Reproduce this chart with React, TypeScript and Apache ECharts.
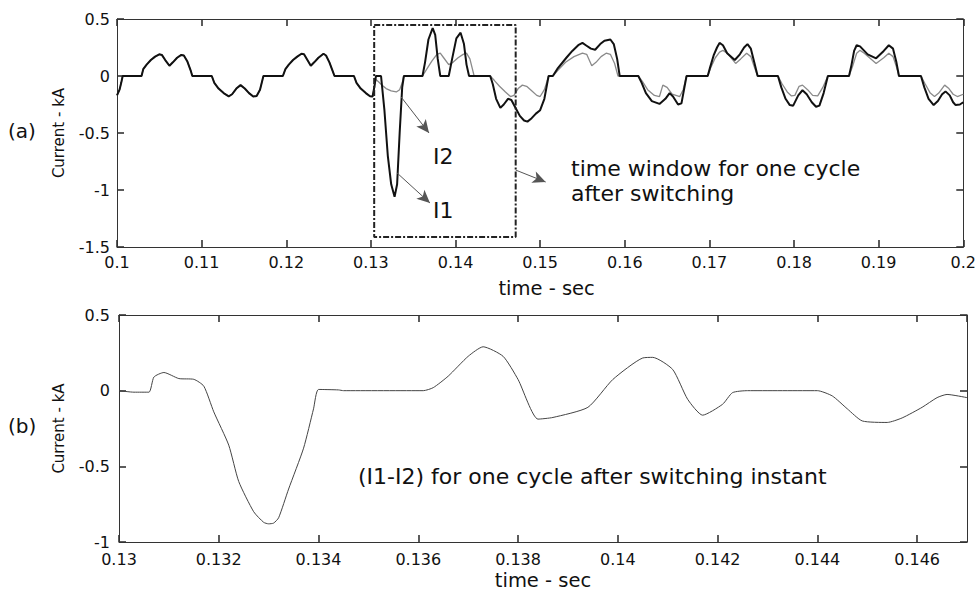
import React, { useEffect, useRef } from "react";
import * as echarts from "echarts";

// ---- Panel (a): currents, shared part before switching (I1 = I2) ----
const preTime = [
  0.1, 0.1003, 0.1005, 0.10067, 0.1029, 0.1031, 0.1035, 0.104, 0.1045, 0.105, 0.1053, 0.1057, 0.1062,
  0.1066, 0.1071, 0.1076, 0.1079, 0.1083, 0.1087, 0.1089, 0.1112, 0.1115, 0.112, 0.1126, 0.1132,
  0.1136, 0.1141, 0.1146, 0.1151, 0.1156, 0.1161, 0.1165, 0.1169, 0.1172, 0.1173, 0.1196, 0.1199,
  0.1203, 0.1208, 0.1213, 0.1218, 0.1221, 0.1225, 0.1229, 0.1233, 0.1238, 0.1244, 0.1247, 0.1251,
  0.1255, 0.1257, 0.128, 0.1283, 0.1288, 0.1294, 0.1299, 0.1302,
];
const preCurrent = [
  -0.17, -0.12, -0.06, 0, 0, 0.06, 0.1, 0.14, 0.17, 0.19, 0.185, 0.14, 0.09,
  0.12, 0.16, 0.185, 0.18, 0.13, 0.05, 0, 0, -0.06, -0.11, -0.15, -0.178,
  -0.16, -0.11, -0.08, -0.11, -0.15, -0.18, -0.175, -0.12, -0.03, 0, 0, 0.06,
  0.1, 0.14, 0.17, 0.195, 0.19, 0.14, 0.09, 0.12, 0.16, 0.195, 0.18, 0.12,
  0.04, 0, 0, -0.06, -0.11, -0.15, -0.178, -0.18,
];

// ---- I1 after switching ----
const i1PostTime = [
  0.1304, 0.1306, 0.1312, 0.1316, 0.132, 0.1324, 0.1328, 0.1331, 0.1334, 0.1337, 0.1339, 0.1361,
  0.1364, 0.1368, 0.1373, 0.1376, 0.1379, 0.1382, 0.1392, 0.1396, 0.1401, 0.1406, 0.141, 0.1413,
  0.1416, 0.1441, 0.1444, 0.1448, 0.1453, 0.1457, 0.1462, 0.1466, 0.1471, 0.1476, 0.1481, 0.1485,
  0.149, 0.1495, 0.15, 0.1505, 0.1508, 0.151, 0.1515, 0.1521, 0.1531, 0.1538, 0.1545, 0.155, 0.1554,
  0.156, 0.1565, 0.1571, 0.1576, 0.1583, 0.1587, 0.1591, 0.1594, 0.1616, 0.162, 0.1625, 0.1632,
  0.1641, 0.1648, 0.1653, 0.1657, 0.1663, 0.1667, 0.167, 0.1673, 0.1698, 0.1701, 0.1705, 0.1709,
  0.1712, 0.1716, 0.1721, 0.173, 0.1736, 0.1741, 0.1745, 0.1749, 0.1753, 0.1757, 0.1781, 0.1785,
  0.179, 0.1795, 0.1799, 0.1805, 0.181, 0.1815, 0.1821, 0.1826, 0.183, 0.1835, 0.184, 0.1865, 0.1868,
  0.1871, 0.1874, 0.1878, 0.1887, 0.1897, 0.1906, 0.1912, 0.1917, 0.1921, 0.1924, 0.195, 0.1954,
  0.1959, 0.1965, 0.197, 0.1975, 0.1979, 0.1984, 0.1988, 0.1991, 0.1996, 0.2,
];
const i1PostCurrent = [
  -0.1, 0, 0, -0.3, -0.7, -0.95, -1.06, -0.95, -0.5, -0.1, 0, 0,
  0.12, 0.32, 0.42, 0.36, 0.15, 0, 0, 0.15, 0.33, 0.38, 0.28, 0.1,
  0, 0, -0.07, -0.2, -0.28, -0.25, -0.2, -0.21, -0.28, -0.35, -0.39, -0.4,
  -0.37, -0.33, -0.3, -0.2, -0.08, 0, 0, 0.07, 0.16, 0.22, 0.27, 0.29, 0.27,
  0.24, 0.23, 0.28, 0.31, 0.32, 0.28, 0.15, 0, 0, -0.06, -0.15, -0.22,
  -0.245, -0.2, -0.15, -0.18, -0.25, -0.24, -0.12, 0, 0, 0.08, 0.18, 0.25,
  0.29, 0.27, 0.2, 0.14, 0.19, 0.25, 0.28, 0.24, 0.12, 0, 0, -0.1,
  -0.2, -0.255, -0.26, -0.17, -0.125, -0.16, -0.23, -0.27, -0.26, -0.15, 0, 0, 0.1,
  0.22, 0.27, 0.26, 0.19, 0.155, 0.22, 0.27, 0.24, 0.12, 0, 0, -0.1,
  -0.2, -0.255, -0.22, -0.16, -0.135, -0.17, -0.23, -0.255, -0.25, -0.23,
];

// ---- I2 after switching ----
const i2PostTime = [
  0.1304, 0.1306, 0.1309, 0.1313, 0.1318, 0.1324, 0.133, 0.1334, 0.1337, 0.1339, 0.1361, 0.1366,
  0.1372, 0.1378, 0.1382, 0.1386, 0.1392, 0.1397, 0.1403, 0.1409, 0.1413, 0.1417, 0.142, 0.1422,
  0.1441, 0.1446, 0.1452, 0.1459, 0.1465, 0.1469, 0.1474, 0.1479, 0.1484, 0.149, 0.1496, 0.15,
  0.1505, 0.1508, 0.151, 0.1515, 0.1521, 0.153, 0.154, 0.155, 0.1555, 0.1561, 0.1566, 0.1572, 0.1578,
  0.1583, 0.1588, 0.1592, 0.1616, 0.1621, 0.1627, 0.1635, 0.1641, 0.1645, 0.165, 0.1656, 0.1665,
  0.1669, 0.1673, 0.1698, 0.1702, 0.1707, 0.1712, 0.1716, 0.1721, 0.1731, 0.1737, 0.1744, 0.1749,
  0.1753, 0.1757, 0.1781, 0.1786, 0.1792, 0.1797, 0.1801, 0.1806, 0.181, 0.1816, 0.1822, 0.1828,
  0.1834, 0.184, 0.1865, 0.1869, 0.1874, 0.1878, 0.1883, 0.1897, 0.1906, 0.1912, 0.1917, 0.1921,
  0.1924, 0.195, 0.1955, 0.1961, 0.1966, 0.1971, 0.1978, 0.1983, 0.1988, 0.1993, 0.2,
];
const i2PostCurrent = [
  -0.1, -0.03, -0.05, -0.08, -0.11, -0.13, -0.14, -0.12, -0.06, 0, 0, 0.06,
  0.13, 0.19, 0.2, 0.16, 0.1, 0.12, 0.16, 0.19, 0.2, 0.15, 0.06, 0,
  0, -0.04, -0.09, -0.14, -0.18, -0.17, -0.11, -0.08, -0.09, -0.13, -0.17, -0.18,
  -0.12, -0.05, 0, 0, 0.05, 0.12, 0.17, 0.2, 0.19, 0.09, 0.12, 0.17, 0.2,
  0.19, 0.11, 0, 0, -0.05, -0.12, -0.17, -0.18, -0.08, -0.1, -0.16, -0.18,
  -0.12, 0, 0, 0.08, 0.16, 0.21, 0.225, 0.2, 0.11, 0.15, 0.2, 0.17,
  0.08, 0, 0, -0.07, -0.14, -0.175, -0.17, -0.09, -0.08, -0.12, -0.17, -0.175,
  -0.1, 0, 0, 0.08, 0.2, 0.225, 0.2, 0.11, 0.16, 0.2, 0.17, 0.08,
  0, 0, -0.07, -0.15, -0.18, -0.15, -0.08, -0.11, -0.16, -0.18, -0.16,
];

// ---- Panel (b): I1 - I2 ----
const diffTime = [
  0.13, 0.1303, 0.1306, 0.1307, 0.1309, 0.1312, 0.1315, 0.1317, 0.1319, 0.1322, 0.1324, 0.1327,
  0.1329, 0.133, 0.1331, 0.1332, 0.1334, 0.1337, 0.1339, 0.134, 0.1344, 0.1345, 0.1361, 0.1363,
  0.1366, 0.137, 0.1373, 0.1377, 0.138, 0.1384, 0.1387, 0.1394, 0.1399, 0.1405, 0.1407, 0.1411,
  0.1414, 0.1417, 0.1421, 0.1423, 0.1426, 0.144, 0.1443, 0.1446, 0.1449, 0.1454, 0.1457, 0.1461,
  0.1464, 0.1466, 0.147,
];
const diffCurrent = [
  0, -0.01, -0.01, 0.09, 0.12, 0.08, 0.075, 0.03, -0.14, -0.36, -0.6, -0.8,
  -0.87, -0.88, -0.875, -0.84, -0.65, -0.38, -0.12, 0.008, 0.005, 0, 0, 0.02,
  0.096, 0.227, 0.29, 0.227, 0.074, -0.188, -0.177, -0.11, 0.074, 0.216, 0.22, 0.14,
  -0.057, -0.162, -0.09, -0.013, 0, 0, -0.035, -0.12, -0.2, -0.21, -0.18, -0.11,
  -0.046, -0.025, -0.046,
];

// ---- Annotations (data coordinates of panel a) ----
const windowTime = [0.13039, 0.14711];
const windowCurrent = [0.447, -1.412];
const arrowI2 = [[0.13357, -0.184], [0.13687, -0.5]];
const arrowI1 = [[0.1331, -0.851], [0.13698, -1.114]];
const arrowWindow = [[0.14711, -0.825], [0.15065, -0.93]];

const zip = (t: number[], v: number[]) => t.map((x, i) => [x, v[i]]);

const FONT = "DejaVu Sans";

function makeAxes(gridIndex: number, min: number, max: number, interval: number, isX: boolean, extra: any) {
  const common = {
    gridIndex,
    type: "value",
    min,
    max,
    interval,
    axisLine: { show: true, onZero: false, lineStyle: { color: "#333", width: 1 } },
    axisTick: { show: true, inside: true, length: 7, lineStyle: { color: "#333", width: 1.6 } },
    splitLine: { show: false },
  };
  return [
    {
      ...common,
      position: isX ? "bottom" : "left",
      axisLabel: {
        show: true,
        fontFamily: FONT,
        fontSize: 16,
        lineHeight: 16,
        color: "#111",
        formatter: (v: number) => String(parseFloat(v.toFixed(4))),
        ...extra.label,
      },
      ...extra.axis,
    },
    {
      ...common,
      position: isX ? "top" : "right",
      axisLabel: { show: false },
    },
  ];
}

export default function App() {
  const ref = useRef<HTMLDivElement>(null);
  useEffect(() => {
    if (!ref.current) return;
    const chart = echarts.init(ref.current, undefined, { renderer: "svg" });
    const i1 = zip(preTime, preCurrent).concat(zip(i1PostTime, i1PostCurrent));
    const i2 = zip(preTime, preCurrent).concat(zip(i2PostTime, i2PostCurrent));
    const diff = zip(diffTime, diffCurrent);
    const box = [
      [windowTime[0], windowCurrent[0]],
      [windowTime[1], windowCurrent[0]],
      [windowTime[1], windowCurrent[1]],
      [windowTime[0], windowCurrent[1]],
      [windowTime[0], windowCurrent[0]],
    ];
    const nameStyle = { fontFamily: FONT, fontSize: 19.5, color: "#111" };
    const yNameStyle = { fontFamily: FONT, fontSize: 15, color: "#111" };
    const xTop = makeAxes(0, 0.1, 0.2, 0.01, true, {
      label: { margin: 7, showMinLabel: true, showMaxLabel: true },
      axis: { name: "time - sec", nameLocation: "middle", nameGap: 31, nameTextStyle: { ...nameStyle, padding: [0, 0, 0, 13] } },
    });
    const xBot = makeAxes(1, 0.13, 0.147, 0.002, true, {
      label: { margin: 9, showMinLabel: true, showMaxLabel: false },
      axis: { name: "time - sec", nameLocation: "middle", nameGap: 28, nameTextStyle: nameStyle },
    });
    const yTop = makeAxes(0, -1.5, 0.5, 0.5, false, {
      label: { margin: 7, formatter: (v: number) => String(v) },
      axis: { name: "Current - kA", nameLocation: "middle", nameGap: 51, nameTextStyle: yNameStyle },
    });
    const yBot = makeAxes(1, -1, 0.5, 0.5, false, {
      label: { margin: 9, formatter: (v: number) => String(v) },
      axis: { name: "Current - kA", nameLocation: "middle", nameGap: 53, nameTextStyle: yNameStyle },
    });
    const arrowData = [arrowI2, arrowI1, arrowWindow].map((a) => [
      { coord: a[0] },
      { coord: a[1] },
    ]);
    const txt = (text: string, x: number, y: number, size: number) => ({
      type: "text",
      left: x,
      top: y - size / 2 - 1,
      style: { text, fontFamily: FONT, fontSize: size, fill: "#111" },
      silent: true,
    });
    chart.setOption({
      animation: false,
      backgroundColor: "#fff",
      grid: [
        { left: 117, top: 19, width: 849, height: 228 },
        { left: 119, top: 315, width: 848, height: 229 },
      ],
      xAxis: [...xTop, ...xBot],
      yAxis: [...yTop, ...yBot],
      series: [
        {
          name: "I2",
          type: "line",
          xAxisIndex: 0,
          yAxisIndex: 0,
          data: i2,
          showSymbol: false,
          symbol: "none",
          lineStyle: { color: "#8a8a8a", width: 1.3 },
        },
        {
          name: "I1",
          type: "line",
          xAxisIndex: 0,
          yAxisIndex: 0,
          data: i1,
          showSymbol: false,
          symbol: "none",
          lineStyle: { color: "#111", width: 2 },
        },
        {
          name: "window",
          type: "line",
          xAxisIndex: 0,
          yAxisIndex: 0,
          data: box,
          showSymbol: false,
          symbol: "none",
          lineStyle: { color: "#222", width: 2, type: [6, 2, 2, 2] },
          markLine: {
            silent: true,
            symbol: ["none", "arrow"],
            symbolSize: [9, 13],
            label: { show: false },
            lineStyle: { color: "#555", width: 1, type: "solid" },
            data: arrowData,
          },
        },
        {
          name: "I1-I2",
          type: "line",
          xAxisIndex: 2,
          yAxisIndex: 2,
          data: diff,
          showSymbol: false,
          symbol: "none",
          smooth: 0.2,
          lineStyle: { color: "#444", width: 1 },
        },
      ],
      graphic: [
        txt("(a)", 8, 132, 20),
        txt("(b)", 8, 427, 20),
        txt("I2", 433, 157, 22),
        txt("I1", 433, 211, 22),
        txt("time window for one cycle", 571, 169, 22),
        txt("after switching", 571, 194, 22),
        txt("(I1-I2) for one cycle after switching instant", 358, 477, 22),
      ],
    });
    return () => chart.dispose();
  }, []);
  return (
    <div
      ref={ref}
      style={{ position: "absolute", left: 0, top: 0, width: 979, height: 591, background: "#fff" }}
    />
  );
}
